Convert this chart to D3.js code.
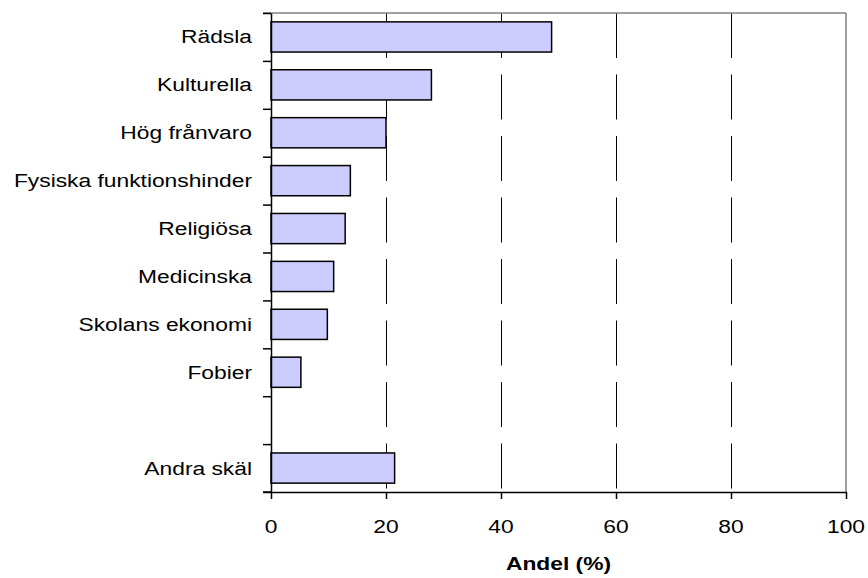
<!DOCTYPE html>
<html>
<head>
<meta charset="utf-8">
<script src="https://cdn.jsdelivr.net/npm/d3@7"></script>
<style>
body { margin: 0; background: #fff; }
text { font-family: "Liberation Sans", Arial, sans-serif; fill: #000; }
</style>
</head>
<body>
<script>
var categories = ["Rädsla", "Kulturella", "Hög frånvaro", "Fysiska funktionshinder", "Religiösa", "Medicinska", "Skolans ekonomi", "Fobier", " ", "Andra skäl"];
var values = [48.8, 27.9, 20, 13.8, 12.9, 10.9, 9.8, 5.2, null, 21.5];
var xTicks = [0, 20, 40, 60, 80, 100];
var xLabel = "Andel (%)";

var width = 868;
var height = 578;
var margin = {top: 13, right: 22, bottom: 86, left: 271};
var w = width - margin.left - margin.right;
var h = height - margin.top - margin.bottom;
var sx = 1.2; // text looks stretched sideways
var fs = "19px";

var data = categories.map((c, i) => { return {cat: c, val: values[i]}; });

var x = d3.scaleLinear()
	.domain([0, 100])
	.range([0, w]);

var y = d3.scaleBand()
	.domain(categories)
	.range([0, h])
	.paddingInner(0.37)
	.paddingOuter(0.185);

// boundary ticks on the left axis
var yEdge = d3.scaleLinear()
	.domain([0, categories.length])
	.range([0, h]);

var svg = d3.select("body")
	.append("svg")
		.attr("width", width)
		.attr("height", height);

var g = svg.append("g")
	.attr("transform", "translate(" + margin.left + ", " + margin.top + ")");

// dashed grid
g.selectAll(".grid")
	.data(xTicks.filter((d) => { return d > 0 && d < 100; }))
	.enter()
	.append("line")
	.attr("class", "grid")
	.attr("x1", (d) => { return Math.round(x(d)) + 0.5; })
	.attr("x2", (d) => { return Math.round(x(d)) + 0.5; })
	.attr("y1", 0)
	.attr("y2", h)
	.attr("stroke", "#000")
	.attr("stroke-width", 1)
	.attr("stroke-dasharray", "45,16.5");

// frame top + right
g.append("line")
	.attr("x1", -8).attr("x2", w)
	.attr("y1", 0).attr("y2", 0)
	.attr("stroke", "#808080").attr("stroke-width", 1.5);
g.append("line")
	.attr("x1", w).attr("x2", w)
	.attr("y1", 0).attr("y2", h)
	.attr("stroke", "#808080").attr("stroke-width", 1.5);

// bars
g.selectAll("rect")
	.data(data.filter((d) => { return d.val != null; }))
	.enter()
	.append("rect")
	.attr("x", 0)
	.attr("y", (d) => { return y(d.cat); })
	.attr("width", (d) => { return x(d.val); })
	.attr("height", y.bandwidth())
	.attr("fill", "#ccccff")
	.attr("stroke", "#000")
	.attr("stroke-width", 1.5);

// left axis
var leftAxis = d3.axisLeft(yEdge)
	.tickValues(d3.range(0, categories.length + 1))
	.tickSize(8)
	.tickSizeOuter(0)
	.tickFormat("");
var la = g.append("g")
	.attr("class", "left axis")
	.call(leftAxis);
la.selectAll("path, line").attr("stroke", "#000").attr("stroke-width", 1.5);

// category labels
g.selectAll(".cat")
	.data(data)
	.enter()
	.append("text")
	.attr("class", "cat")
	.attr("transform", (d) => { return "translate(-19," + (y(d.cat) + y.bandwidth() / 2 + 6.5) + ") scale(" + sx + ",1)"; })
	.attr("text-anchor", "end")
	.attr("font-size", fs)
	.text((d) => { return d.cat.trim(); });

// bottom axis
var bottomAxis = d3.axisBottom(x)
	.tickValues(xTicks)
	.tickSize(7)
	.tickSizeOuter(0)
	.tickFormat("");
var ba = g.append("g")
	.attr("class", "bottom axis")
	.attr("transform", "translate(0, " + h + ")")
	.call(bottomAxis);
ba.selectAll("path, line").attr("stroke", "#000").attr("stroke-width", 1.5);
ba.append("line")
	.attr("x1", -8).attr("x2", 0)
	.attr("y1", 0).attr("y2", 0)
	.attr("stroke", "#000").attr("stroke-width", 1.5);

g.selectAll(".xt")
	.data(xTicks)
	.enter()
	.append("text")
	.attr("class", "xt")
	.attr("transform", (d) => { return "translate(" + x(d) + "," + (h + 41) + ") scale(" + sx + ",1)"; })
	.attr("text-anchor", "middle")
	.attr("font-size", fs)
	.text((d) => { return d; });

g.append("text")
	.attr("class", "x axis-label")
	.attr("transform", "translate(" + (w / 2) + "," + (h + 78) + ") scale(" + sx + ",1)")
	.attr("text-anchor", "middle")
	.attr("font-size", fs)
	.attr("font-weight", "bold")
	.text(xLabel);
</script>
</body>
</html>
